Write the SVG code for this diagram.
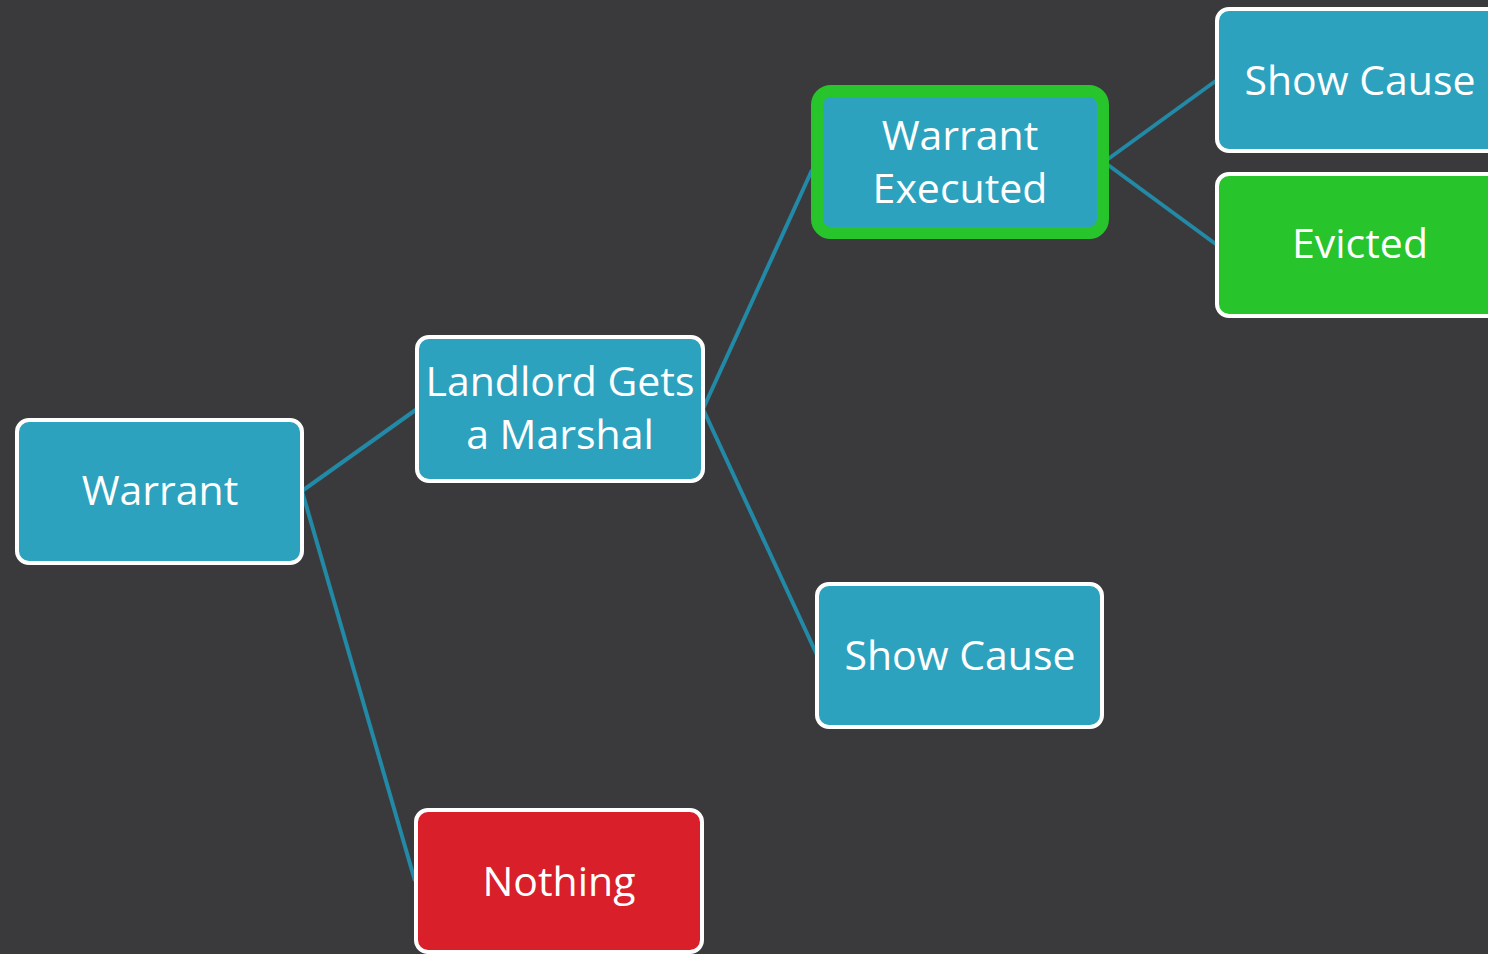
<svg xmlns="http://www.w3.org/2000/svg" width="1488" height="954" viewBox="0 0 1488 954">
  <style>
    .box { fill: #2ca2be; stroke: #ffffff; stroke-width: 4; }
    .box.red { fill: #d81f2a; }
    .box.green { fill: #27c42b; }
    .box.hl { stroke: #27c42b; stroke-width: 12; }
    .label { fill: #ffffff; font-family: "Open Sans", "Noto Sans", sans-serif; font-size: 41px; text-anchor: middle; }
    .link { stroke: #2289a6; stroke-width: 4; fill: none; }
  </style>
  <rect x="0" y="0" width="1488" height="954" fill="#3a3a3c"/>

  <g id="connectors">
    <line class="link" x1="302" y1="491" x2="417" y2="409"/>
    <line class="link" x1="302" y1="491" x2="415" y2="881"/>
    <line class="link" x1="703" y1="409" x2="812" y2="170"/>
    <line class="link" x1="703" y1="409" x2="817" y2="655"/>
    <line class="link" x1="1104" y1="162" x2="1217" y2="80"/>
    <line class="link" x1="1104" y1="162" x2="1217" y2="245"/>
  </g>

  <g id="warrant">
    <rect class="box" x="17" y="420" width="285" height="143" rx="12"/>
    <text class="label" x="160" y="505">Warrant</text>
  </g>

  <g id="landlord-marshal">
    <rect class="box" x="417" y="337" width="286" height="144" rx="12"/>
    <text class="label" x="560" y="396">Landlord Gets</text>
    <text class="label" x="560" y="449">a Marshal</text>
  </g>

  <g id="nothing">
    <rect class="box red" x="416" y="810" width="286" height="142" rx="12"/>
    <text class="label" x="559" y="896">Nothing</text>
  </g>

  <g id="warrant-executed">
    <rect class="box hl" x="817" y="91" width="286" height="142" rx="14"/>
    <text class="label" x="960" y="150">Warrant</text>
    <text class="label" x="960" y="203">Executed</text>
  </g>

  <g id="show-cause-mid">
    <rect class="box" x="817" y="584" width="285" height="143" rx="12"/>
    <text class="label" x="960" y="670">Show Cause</text>
  </g>

  <g id="show-cause-top">
    <rect class="box" x="1217" y="9" width="290" height="142" rx="12"/>
    <text class="label" x="1360" y="95">Show Cause</text>
  </g>

  <g id="evicted">
    <rect class="box green" x="1217" y="174" width="290" height="142" rx="12"/>
    <text class="label" x="1360" y="258">Evicted</text>
  </g>
</svg>
